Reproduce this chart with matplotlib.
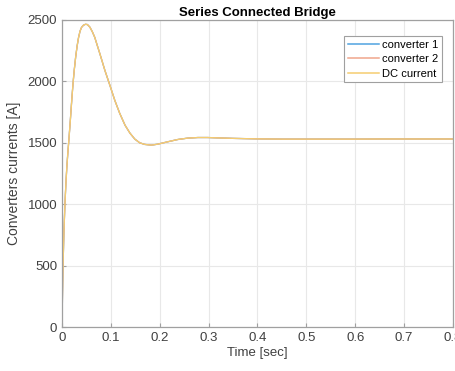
import matplotlib.pyplot as plt

# Step response of the series connected bridge (A vs s)
time = [0.0, 0.001, 0.002, 0.004, 0.006, 0.008, 0.010, 0.012, 0.014, 0.017,
        0.020, 0.0225, 0.025, 0.028, 0.031, 0.034, 0.037, 0.040, 0.044, 0.048,
        0.052, 0.057, 0.062, 0.067, 0.072, 0.0776, 0.0878, 0.098, 0.108, 0.118,
        0.129, 0.139, 0.149, 0.159, 0.169, 0.183, 0.196, 0.216, 0.237, 0.257,
        0.278, 0.298, 0.319, 0.35, 0.40, 0.45, 0.50, 0.55, 0.60, 0.65,
        0.70, 0.75, 0.80]
dc_current = [0, 260, 480, 780, 1000, 1170, 1310, 1420, 1520, 1680,
              1850, 1980, 2090, 2200, 2290, 2360, 2410, 2440, 2458, 2465,
              2463, 2442, 2405, 2359, 2295, 2224, 2089, 1968, 1846, 1741,
              1643, 1579, 1530, 1500, 1487, 1481, 1489, 1508, 1527, 1538,
              1543, 1543, 1540, 1536, 1532, 1530, 1530, 1530, 1530, 1531,
              1531, 1531, 1531]
# both converters carry the same current as the dc link
conv1_current = list(dc_current)
conv2_current = list(dc_current)

x_ticks = [0, 0.1, 0.2, 0.3, 0.4, 0.5, 0.6, 0.7, 0.8]
y_ticks = [0, 500, 1000, 1500, 2000, 2500]

plt.rcParams['font.family'] = ['Liberation Sans', 'DejaVu Sans']

fig = plt.figure(figsize=(4.56, 3.71), dpi=100)
ax = fig.add_axes([62 / 456, 44 / 371, 391 / 456, 307 / 371])

ax.plot(time, conv1_current, color='#4fa3e0', lw=0.9, label='converter 1')
ax.plot(time, conv2_current, color='#f0a58c', lw=0.9, label='converter 2')
ax.plot(time, dc_current, color='#f5cd70', lw=0.9, label='DC current')

ax.set_xlim(0, 0.8)
ax.set_ylim(0, 2500)
ax.set_xticks(x_ticks)
ax.set_xticklabels(['0', '0.1', '0.2', '0.3', '0.4', '0.5', '0.6', '0.7', '0.8'])
ax.set_yticks(y_ticks)
ax.grid(True, color='#e8e8e8', lw=0.8)
ax.set_axisbelow(True)
ax.tick_params(direction='in', length=3, width=0.8, colors='#a0a0a0',
               labelcolor='#404040', labelsize=9.5)
for s in ax.spines.values():
    s.set_color('#a0a0a0')
    s.set_linewidth(0.9)

ax.set_title('Series Connected Bridge', fontsize=9.5, fontweight='bold', pad=3)
ax.set_xlabel('Time [sec]', fontsize=9.5, color='#404040', labelpad=2)
ax.set_ylabel('Converters currents [A]', fontsize=10, color='#404040', labelpad=5)

leg = ax.legend(loc='upper right', fontsize=8, fancybox=False, framealpha=1,
                edgecolor='#a0a0a0', handlelength=2.8, borderpad=0.3,
                labelspacing=0.4, handletextpad=0.3, bbox_to_anchor=(0.985, 0.965))
leg.get_frame().set_linewidth(0.8)
for line in leg.get_lines():
    line.set_linewidth(1.1)

plt.savefig('out.png', dpi=100)
